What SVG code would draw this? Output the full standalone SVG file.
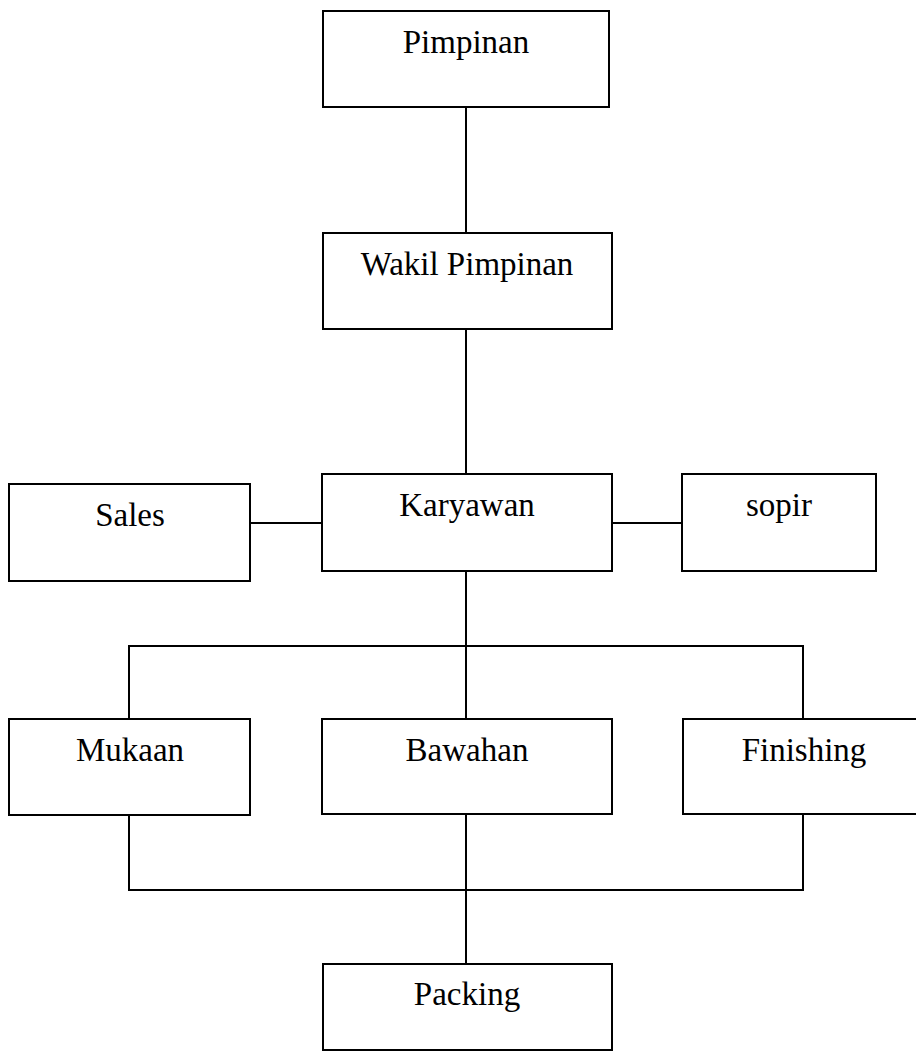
<svg xmlns="http://www.w3.org/2000/svg" width="916" height="1052" viewBox="0 0 916 1052">
<style>
.box{fill:#fff;stroke:#000;stroke-width:2}
.lbl{font-family:"Liberation Serif","Times New Roman",serif;font-size:33px;fill:#000;text-anchor:middle}
.con{stroke:#000;stroke-width:2;fill:none}
</style>
<rect width="916" height="1052" fill="#fff"/>
<g id="connectors">
<line class="con" x1="466" y1="107" x2="466" y2="233"/>
<line class="con" x1="466" y1="329" x2="466" y2="474"/>
<line class="con" x1="250" y1="523" x2="322" y2="523"/>
<line class="con" x1="612" y1="523" x2="682" y2="523"/>
<line class="con" x1="466" y1="571" x2="466" y2="719"/>
<polyline class="con" points="129,719 129,646 803,646 803,719"/>
<polyline class="con" points="129,815 129,890 803,890 803,814"/>
<line class="con" x1="466" y1="814" x2="466" y2="964"/>
</g>
<g id="pimpinan"><rect class="box" x="323" y="11" width="286" height="96"/><text class="lbl" x="466" y="53">Pimpinan</text></g>
<g id="wakil"><rect class="box" x="323" y="233" width="289" height="96"/><text class="lbl" x="467" y="275">Wakil Pimpinan</text></g>
<g id="sales"><rect class="box" x="9" y="484" width="241" height="97"/><text class="lbl" x="130" y="526">Sales</text></g>
<g id="karyawan"><rect class="box" x="322" y="474" width="290" height="97"/><text class="lbl" x="467" y="516">Karyawan</text></g>
<g id="sopir"><rect class="box" x="682" y="474" width="194" height="97"/><text class="lbl" x="779" y="516">sopir</text></g>
<g id="mukaan"><rect class="box" x="9" y="719" width="241" height="96"/><text class="lbl" x="130" y="761">Mukaan</text></g>
<g id="bawahan"><rect class="box" x="322" y="719" width="290" height="95"/><text class="lbl" x="467" y="761">Bawahan</text></g>
<g id="finishing"><rect class="box" x="683" y="719" width="250" height="95"/><text class="lbl" x="804" y="761">Finishing</text></g>
<g id="packing"><rect class="box" x="323" y="964" width="289" height="86"/><text class="lbl" x="467" y="1005">Packing</text></g>
</svg>
